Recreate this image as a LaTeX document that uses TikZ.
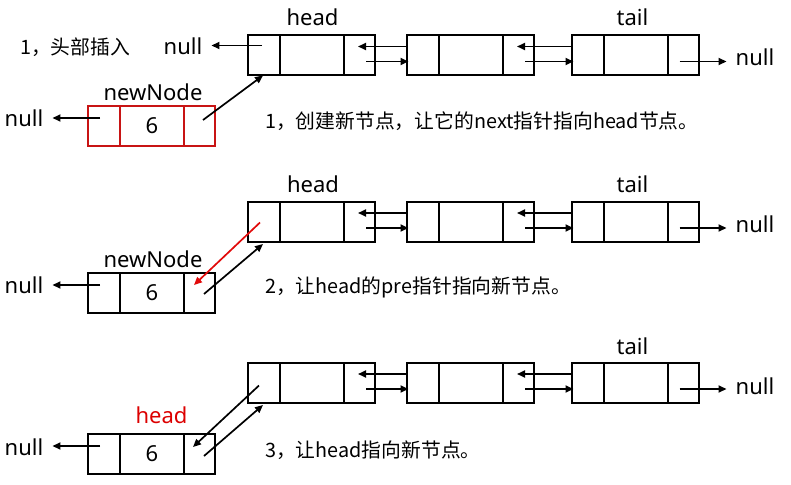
\documentclass[tikz,border=0pt]{standalone}
\usepackage{fontspec}
\setmainfont{Noto Sans}
\newfontfamily\cjk{Noto Sans CJK SC}
\usetikzlibrary{arrows.meta,calc}
\definecolor{boxred}{RGB}{200,20,20}
\definecolor{arrred}{RGB}{225,10,10}
\definecolor{txtred}{RGB}{220,0,0}
\tikzset{
 cell/.style={draw, line width=2pt, minimum height=40pt, inner sep=0pt, outer sep=0pt},
 redcell/.style={draw=boxred},
 arr/.style={line width=1.7pt, -{Triangle[length=8pt,width=7pt]}},
 lbl/.style={font=\fontsize{22}{26}\selectfont, inner sep=0pt},
 captxt/.style={font=\cjk\fontsize{19.8}{23}\selectfont, inner sep=0pt, anchor=west},
}
\newcommand\LLnode[5]{%
 \node[cell,#4,minimum width=32pt,anchor=north west] (#1p) at (#2,#3) {};
 \node[cell,#4,lbl,minimum width=64pt,minimum height=40pt,anchor=west] (#1v) at (#1p.east) {#5};
 \node[cell,#4,minimum width=31pt,anchor=west] (#1n) at (#1v.east) {};}
\begin{document}
\begin{tikzpicture}[x=1pt,y=-1pt]
\useasboundingbox (0,0) rectangle (791,484);
% ---------------- Row 1 ----------------
\LLnode{A1}{248}{35.5}{}{}
\LLnode{B1}{407}{35.5}{}{}
\LLnode{C1}{572}{35.5}{}{}
\LLnode{N1}{88}{106}{redcell}{6}
\node[lbl] (hA1) at (312.5,17) {head};
\node[lbl] (tC1) at (632.5,17.5) {tail};
\node[lbl] (nn1) at (153,92.5) {newNode};
\node[lbl] (nA1) at (183,46.5) {null};
\node[lbl] (nN1) at (24,118.5) {null};
\node[lbl] (nC1) at (755,57.5) {null};
\node[captxt] (t0) at (20,47.5) {1，头部插入};
\node[captxt] (t1) at (265,121) {1，创建新节点，让它的next指针指向head节点。};
\coordinate (A1o) at ([xshift=-2pt,yshift=10pt]A1p.center);
\draw[arr,shorten >=9pt] (A1o) -- (A1o -| nA1.east);
\coordinate (N1o) at ([xshift=-4pt,yshift=8pt]N1p.center);
\draw[arr,shorten >=9pt] (N1o) -- (N1o -| nN1.east);
\coordinate (C1o) at ([xshift=-4pt,yshift=-6pt]C1n.center);
\draw[arr,shorten >=9pt] (C1o) -- (C1o -| nC1.west);
\draw[arr] ([yshift=9pt]B1p.west) -- ([xshift=-1.5pt,yshift=9pt]A1n.center);
\draw[arr] ([xshift=6.5pt,yshift=-6pt]A1n.center) -- ([xshift=1.5pt,yshift=-6pt]B1p.west);
\draw[arr] ([yshift=9pt]C1p.west) -- ([xshift=-1.5pt,yshift=9pt]B1n.center);
\draw[arr] ([xshift=6.5pt,yshift=-6pt]B1n.center) -- ([xshift=1.5pt,yshift=-6pt]C1p.west);
\draw[arr] ([xshift=3.5pt,yshift=6pt]N1n.center) -- ([xshift=-1pt]A1p.south);
% ---------------- Row 2 ----------------
\LLnode{A2}{248}{202}{}{}
\LLnode{B2}{407}{202}{}{}
\LLnode{C2}{572}{202}{}{}
\LLnode{N2}{88}{273}{}{6}
\node[lbl] (hA2) at (313,184) {head};
\node[lbl] (tC2) at (632.5,184) {tail};
\node[lbl] (nn2) at (153,259.5) {newNode};
\node[lbl] (nN2) at (24,285) {null};
\node[lbl] (nC2) at (755,224) {null};
\node[captxt] (t2) at (265,287.5) {2，让head的pre指针指向新节点。};
\coordinate (N2o) at ([xshift=-4pt,yshift=8pt]N2p.center);
\draw[arr,shorten >=9pt] (N2o) -- (N2o -| nN2.east);
\coordinate (C2o) at ([xshift=-4pt,yshift=-6pt]C2n.center);
\draw[arr,shorten >=9pt] (C2o) -- (C2o -| nC2.west);
\draw[arr] ([yshift=9pt]B2p.west) -- ([xshift=-1.5pt,yshift=9pt]A2n.center);
\draw[arr] ([xshift=6.5pt,yshift=-6pt]A2n.center) -- ([xshift=1.5pt,yshift=-6pt]B2p.west);
\draw[arr] ([yshift=9pt]C2p.west) -- ([xshift=-1.5pt,yshift=9pt]B2n.center);
\draw[arr] ([xshift=6.5pt,yshift=-6pt]B2n.center) -- ([xshift=1.5pt,yshift=-6pt]C2p.west);
\draw[arr,color=arrred] ([xshift=-4pt,yshift=-0.5pt]A2p.center) -- ([xshift=-5.5pt,yshift=8pt]N2n.center);
\draw[arr] ([xshift=4.5pt,yshift=-1pt]N2n.center) -- ([xshift=-1pt,yshift=-2pt]A2p.south);
% ---------------- Row 3 ----------------
\LLnode{A3}{248}{363}{}{}
\LLnode{B3}{407}{363}{}{}
\LLnode{C3}{572}{363}{}{}
\LLnode{N3}{88}{434}{}{6}
\node[lbl,text=txtred] (hN3) at (161.5,415) {head};
\node[lbl] (tC3) at (632.5,346) {tail};
\node[lbl] (nN3) at (24,447.5) {null};
\node[lbl] (nC3) at (755,386) {null};
\node[captxt] (t3) at (265,450.5) {3，让head指向新节点。};
\coordinate (N3o) at ([xshift=-4pt,yshift=8pt]N3p.center);
\draw[arr,shorten >=9pt] (N3o) -- (N3o -| nN3.east);
\coordinate (C3o) at ([xshift=-4pt,yshift=-6pt]C3n.center);
\draw[arr,shorten >=9pt] (C3o) -- (C3o -| nC3.west);
\draw[arr] ([yshift=9pt]B3p.west) -- ([xshift=-1.5pt,yshift=9pt]A3n.center);
\draw[arr] ([xshift=6.5pt,yshift=-6pt]A3n.center) -- ([xshift=1.5pt,yshift=-6pt]B3p.west);
\draw[arr] ([yshift=9pt]C3p.west) -- ([xshift=-1.5pt,yshift=9pt]B3n.center);
\draw[arr] ([xshift=6.5pt,yshift=-6pt]B3n.center) -- ([xshift=1.5pt,yshift=-6pt]C3p.west);
\draw[arr] ([xshift=-5pt,yshift=-2.5pt]A3p.center) -- ([xshift=-6.5pt,yshift=7pt]N3n.center);
\draw[arr] ([xshift=4.5pt,yshift=-2pt]N3n.center) -- ([xshift=-1pt,yshift=-2pt]A3p.south);
\end{tikzpicture}
\end{document}
